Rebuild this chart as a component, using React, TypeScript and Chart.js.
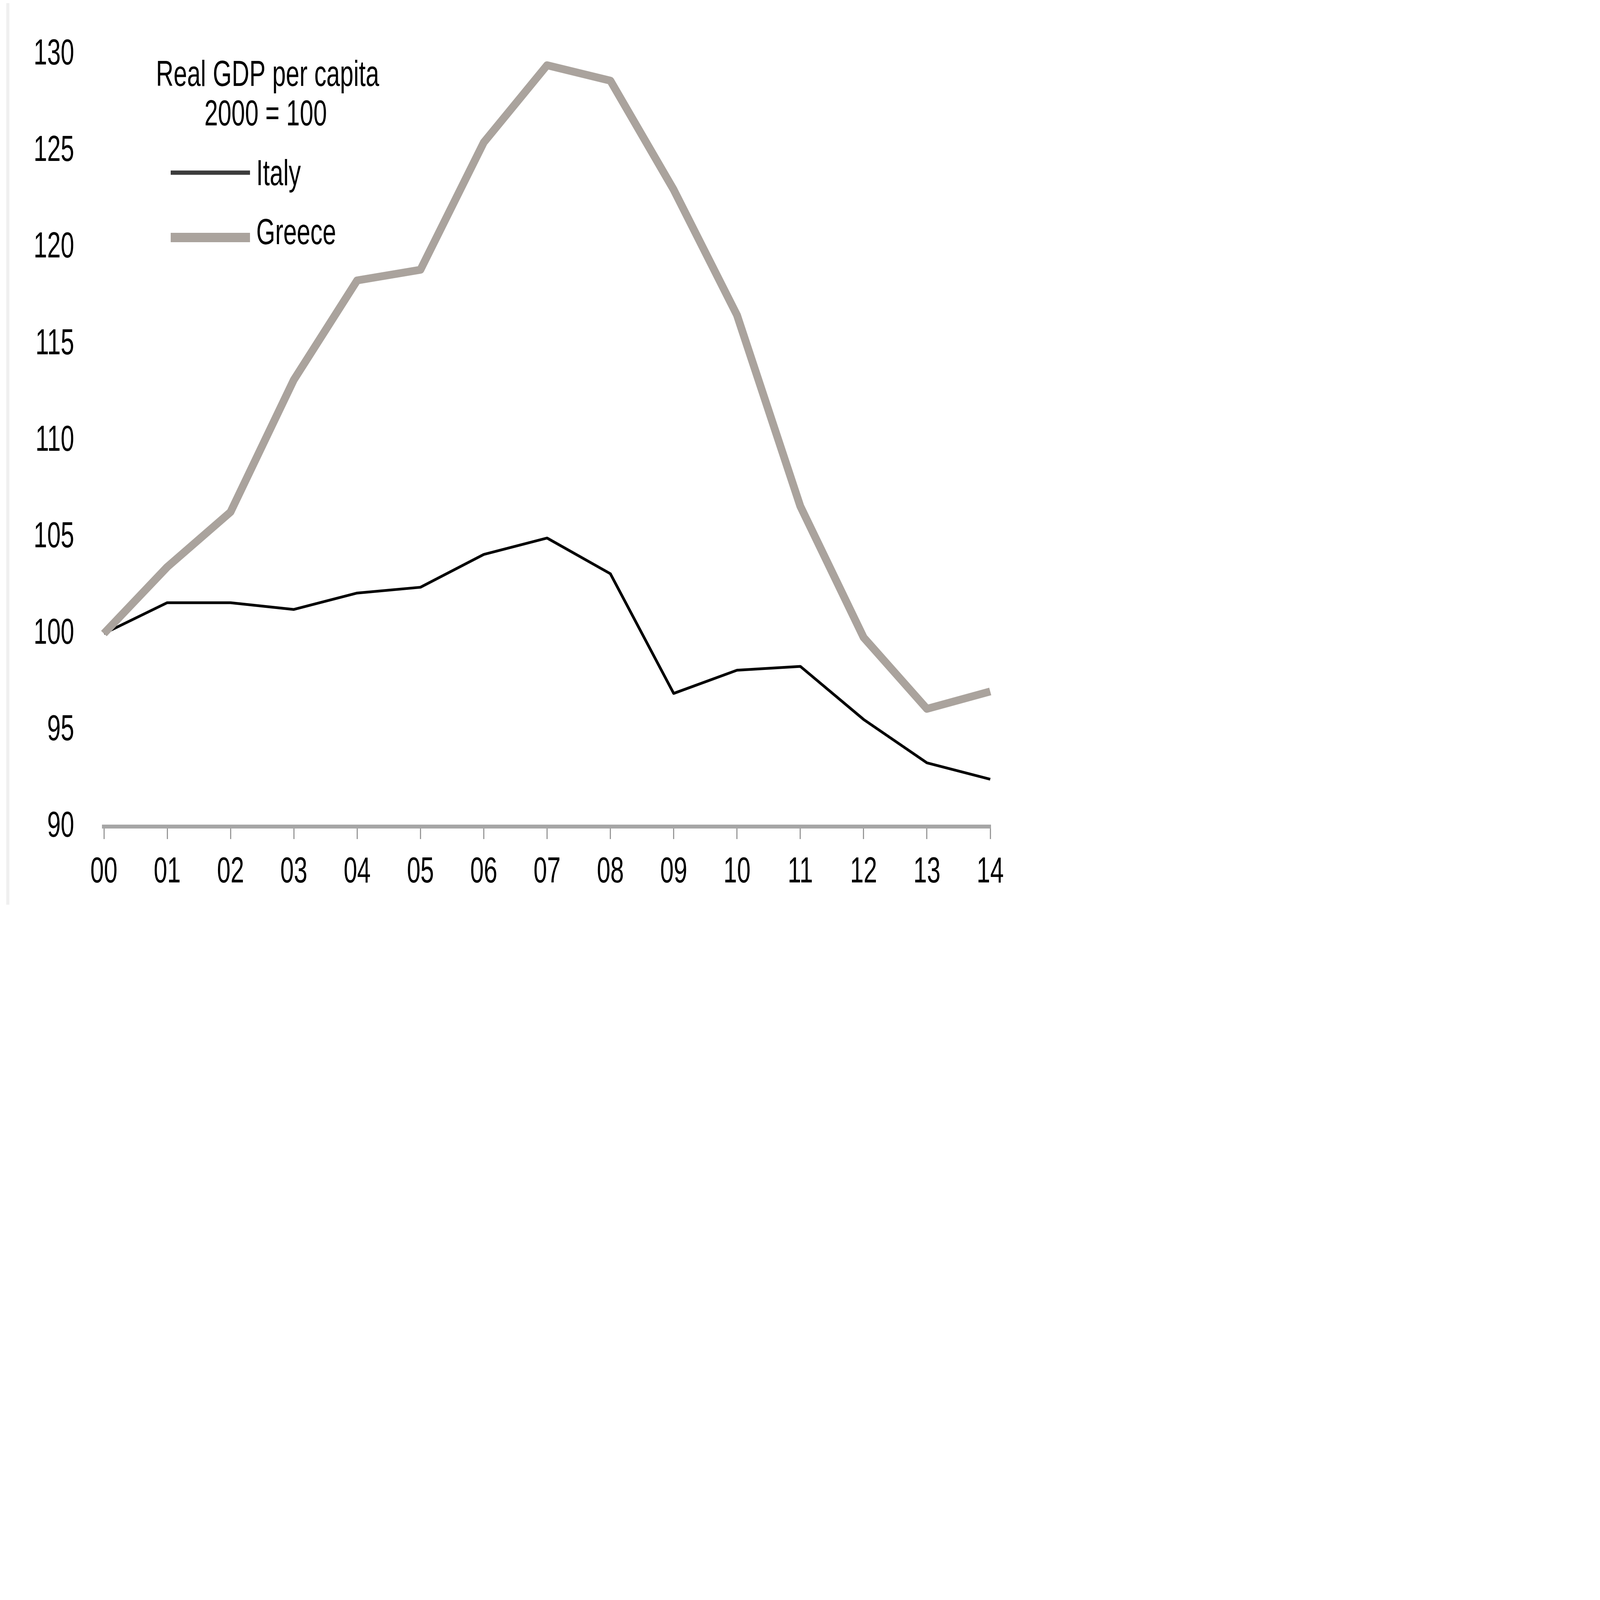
import React, { useEffect, useRef } from "react";
import { Chart, registerables } from "chart.js";

Chart.register(...registerables);

const years = ["00", "01", "02", "03", "04", "05", "06", "07", "08", "09", "10", "11", "12", "13", "14"];
const italy = [100, 101.6, 101.6, 101.25, 102.1, 102.4, 104.1, 104.95, 103.1, 96.9, 98.1, 98.3, 95.55, 93.3, 92.45];
const greece = [100, 103.45, 106.3, 113.15, 118.3, 118.85, 125.45, 129.45, 128.65, 123.0, 116.5, 106.6, 99.8, 96.1, 97.0];
const titleLines = ["Real GDP per capita", "2000 = 100"];
const seriesNames = ["Italy", "Greece"];

const FONT = "'Liberation Sans', Arial, sans-serif";
const FONT_SIZE = 93;
const TEXT_SCALE_X = 0.67; // the source uses a very narrow typeface
const W = 2620;
const H = 2320;

const narrowTextPlugin = {
  id: "narrowText",
  beforeDraw(chart: any) {
    const ctx: any = chart.ctx;
    if (ctx.__narrowPatched) return;
    const orig = ctx.fillText.bind(ctx);
    ctx.fillText = (text: string, x: number, y: number, maxWidth?: number) => {
      ctx.save();
      ctx.translate(x, y);
      ctx.scale(TEXT_SCALE_X, 1);
      if (maxWidth !== undefined && maxWidth !== null) orig(text, 0, 0, maxWidth / TEXT_SCALE_X);
      else orig(text, 0, 0);
      ctx.restore();
    };
    ctx.__narrowPatched = true;
  },
};

const overlayPlugin = {
  id: "overlayText",
  afterDraw(chart: any) {
    const ctx = chart.ctx;
    ctx.save();
    ctx.fillStyle = "#000";
    ctx.font = `${FONT_SIZE}px ${FONT}`;
    ctx.textAlign = "center";
    ctx.textBaseline = "alphabetic";
    ctx.fillText(titleLines[0], 677, 212);
    ctx.fillText(titleLines[1], 672, 313);
    const items = [
      { label: chart.data.datasets[0].label, color: "#3c3c3c", width: 11, y: 434, base: 466 },
      { label: chart.data.datasets[1].label, color: "#aaa39d", width: 24, y: 600, base: 617 },
    ];
    ctx.textAlign = "left";
    items.forEach((it) => {
      ctx.strokeStyle = it.color;
      ctx.lineWidth = it.width;
      ctx.lineCap = "butt";
      ctx.beginPath();
      ctx.moveTo(429, it.y);
      ctx.lineTo(632, it.y);
      ctx.stroke();
      ctx.fillStyle = "#000";
      ctx.fillText(it.label, 648, it.base);
    });
    ctx.restore();
  },
};

export default function App() {
  const ref = useRef<HTMLCanvasElement | null>(null);
  useEffect(() => {
    if (!ref.current) return;
    const chart = new Chart(ref.current, {
      type: "line",
      data: {
        labels: years,
        datasets: [
          {
            label: seriesNames[0],
            data: italy,
            borderColor: "#000000",
            borderWidth: 7,
            pointRadius: 0,
            tension: 0,
            order: 1,
            borderJoinStyle: "round",
          },
          {
            label: seriesNames[1],
            data: greece,
            borderColor: "#aaa39d",
            borderWidth: 20,
            pointRadius: 0,
            tension: 0,
            order: 0,
            borderJoinStyle: "round",
          },
        ],
      },
      options: {
        animation: false,
        responsive: false,
        maintainAspectRatio: false,
        devicePixelRatio: 1,
        layout: { padding: { top: 112, right: 93, left: 0, bottom: 0 } },
        plugins: {
          legend: { display: false },
          tooltip: { enabled: false },
          title: { display: false },
        },
        scales: {
          x: {
            offset: false,
            grid: {
              display: true,
              drawOnChartArea: false,
              drawTicks: true,
              tickLength: 32,
              color: "#9a9a9a",
              lineWidth: 3,
            },
            border: { display: true, color: "#a6a6a6", width: 10 },
            ticks: {
              color: "#000",
              font: { family: FONT, size: FONT_SIZE },
              padding: 30,
              maxRotation: 0,
              autoSkip: false,
            },
            afterFit: (s: any) => {
              s.height = H - 2108;
            },
          },
          y: {
            min: 90,
            max: 130,
            grid: { display: false, drawTicks: false },
            border: { display: false },
            ticks: {
              stepSize: 5,
              color: "#000",
              font: { family: FONT, size: FONT_SIZE },
              padding: 76,
            },
            afterFit: (s: any) => {
              s.width = 258;
            },
          },
        },
      },
      plugins: [narrowTextPlugin, overlayPlugin],
    });
    return () => chart.destroy();
  }, []);

  return (
    <div style={{ position: "relative", width: W, height: H }}>
      <div
        style={{
          position: "absolute",
          left: 8,
          top: -8,
          width: 8,
          height: 2316,
          background: "#f0f0f0",
        }}
      />
      <canvas ref={ref} width={W} height={H} style={{ display: "block", position: "relative" }} />
    </div>
  );
}
